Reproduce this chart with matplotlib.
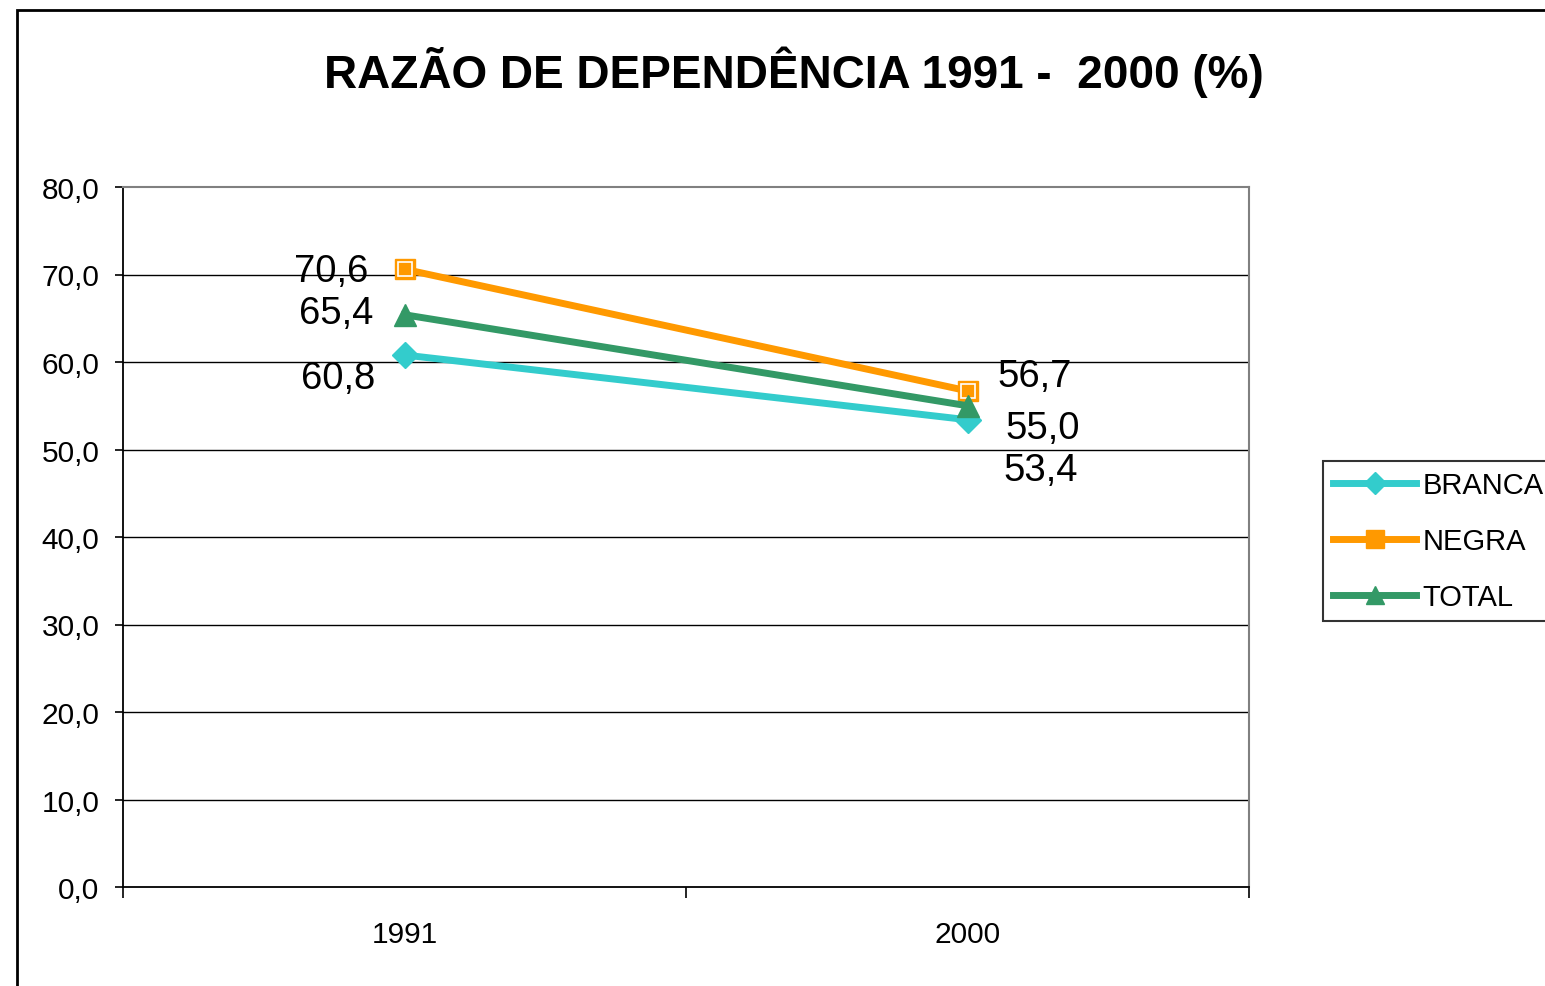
import matplotlib.pyplot as plt
from matplotlib.patches import Rectangle

plt.rcParams['font.family'] = ['Liberation Sans', 'DejaVu Sans']

anos = ['1991', '2000']
branca = [60.8, 53.4]
negra = [70.6, 56.7]
total = [65.4, 55.0]

fig = plt.figure(figsize=(15.45, 9.87), dpi=100)
ax = fig.add_axes([123 / 1545, 1 - 888 / 987, 1126 / 1545, 700 / 987])

x = [0.5, 1.5]
ax.plot(x, branca, color='#33CCCC', lw=5, marker='D', ms=13,
        mfc='#33CCCC', mec='#33CCCC', label='BRANCA', zorder=3)
ax.plot(x, negra, color='#FF9900', lw=5, marker='s', ms=15,
        mfc='#FF9900', mec='#FF9900', label='NEGRA', zorder=3)
ax.plot(x, negra, ls='none', marker='s', ms=10, mfc='none', mec='white',
        mew=1.2, zorder=3.5)
ax.plot(x, total, color='#339966', lw=5, marker='^', ms=16,
        mfc='#339966', mec='#339966', label='TOTAL', zorder=4)

# rótulos dos dados
offs = {
    'branca': [(-66, -23), (73, -50)],
    'negra': [(-73, -2), (67, 15)],
    'total': [(-68, 2), (75, -22)],
}
for nome, vals in [('branca', branca), ('negra', negra), ('total', total)]:
    for i, v in enumerate(vals):
        ax.annotate(f'{v:.1f}'.replace('.', ','), (x[i], v),
                    xytext=offs[nome][i], textcoords='offset pixels',
                    ha='center', va='center', fontsize=27.5)

ax.set_xlim(0, 2)
ax.set_ylim(0, 80)
ax.set_yticks(range(0, 81, 10))
ax.set_yticklabels([f'{v:.1f}'.replace('.', ',') for v in range(0, 81, 10)],
                   fontsize=21.5)
ax.tick_params(axis='y', direction='out', length=6, width=1.2, pad=11)
ax.set_xticks([0, 1, 2])
ax.set_xticklabels([])
ax.tick_params(axis='x', which='major', direction='out', length=8, width=1.2)
ax.set_xticks(x, minor=True)
ax.set_xticklabels(anos, minor=True, fontsize=21.5)
ax.tick_params(axis='x', which='minor', length=0, pad=24)

for v in range(10, 80, 10):
    ax.axhline(v, color='black', lw=1, zorder=1)
ax.spines['left'].set_linewidth(1.3)
ax.spines['bottom'].set_linewidth(1.3)
ax.spines['top'].set_color('#808080')
ax.spines['right'].set_color('#808080')
ax.spines['top'].set_linewidth(1.5)
ax.spines['right'].set_linewidth(1.5)

fig.text(794 / 1545, 1 - 72 / 987, 'RAZÃO DE DEPENDÊNCIA 1991 -  2000 (%)',
         ha='center', va='center', fontsize=33, fontweight='bold')

leg = ax.legend(loc='center left', bbox_to_anchor=(1323 / 1545, 1 - 542 / 987),
                bbox_transform=fig.transFigure, fontsize=21, frameon=True,
                fancybox=False, edgecolor='black', handlelength=2.85,
                handletextpad=0.22, borderpad=0.35, labelspacing=0.95,
                borderaxespad=0, markerscale=0.85)
leg.get_frame().set_linewidth(1.5)

fig.patches.append(Rectangle((17 / 1545, -0.1), 1.2, 1.1 - 11 / 987,
                             transform=fig.transFigure, fill=False,
                             edgecolor='black', lw=2))

fig.savefig('out.png', dpi=100)
